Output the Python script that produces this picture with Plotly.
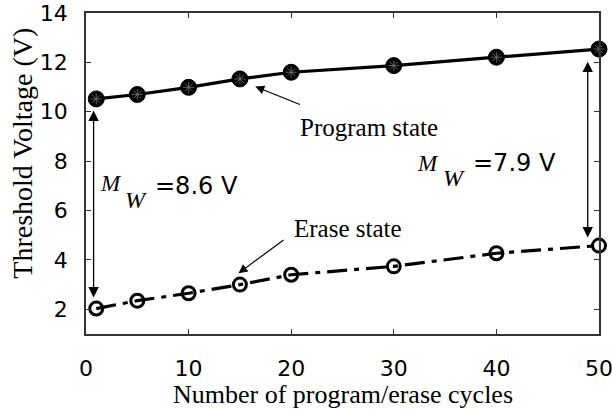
import plotly.graph_objects as go

cycles = [1, 5, 10, 15, 20, 30, 40, 50]
program_vt = [10.52, 10.70, 10.99, 11.33, 11.60, 11.87, 12.21, 12.54]
erase_vt = [2.03, 2.35, 2.65, 3.00, 3.40, 3.74, 4.27, 4.58]
x_ticks = [0, 10, 20, 30, 40, 50]
y_ticks = [2, 4, 6, 8, 10, 12, 14]

SERIF = "Liberation Serif, Times New Roman, serif"
SANS = "DejaVu Sans, Arial, sans-serif"

fig = go.Figure()
fig.add_trace(go.Scatter(
    x=cycles, y=program_vt, mode="lines+markers",
    line=dict(color="black", width=3.2),
    marker=dict(symbol="circle", size=16, color="black",
                line=dict(color="black", width=1)),
    showlegend=False, cliponaxis=False))
fig.add_trace(go.Scatter(
    x=cycles, y=program_vt, mode="markers",
    marker=dict(symbol="asterisk-open", size=9, color="#777777",
                line=dict(color="#777777", width=0.8)),
    showlegend=False, cliponaxis=False))
fig.add_trace(go.Scatter(
    x=cycles, y=erase_vt, mode="lines+markers",
    line=dict(color="black", width=3.2, dash="20px,7px,5px,7px"),
    marker=dict(symbol="circle-open", size=13, color="black",
                line=dict(color="black", width=3)),
    showlegend=False, cliponaxis=False))

ann = []
# double arrows for memory window
for (xa, y0, y1) in [(0.74, 2.42, 10.05), (48.9, 4.85, 12.03)]:
    ann.append(dict(x=xa, y=y1, ax=xa, ay=y0, xref="x", yref="y",
                    axref="x", ayref="y", text="", showarrow=True,
                    arrowhead=2, startarrowhead=2, arrowside="end+start",
                    arrowsize=1.6, startarrowsize=1.6, arrowwidth=1.3,
                    arrowcolor="black"))
# pointer arrows
ann.append(dict(x=16.5, y=11.02, ax=21.0, ay=10.27, xref="x", yref="y",
                axref="x", ayref="y", text="", showarrow=True,
                arrowhead=2, arrowsize=1.5, arrowwidth=1.2, arrowcolor="black"))
ann.append(dict(x=14.86, y=3.46, ax=19.4, ay=4.85, xref="x", yref="y",
                axref="x", ayref="y", text="", showarrow=True,
                arrowhead=2, arrowsize=1.5, arrowwidth=1.2, arrowcolor="black"))
ann.append(dict(x=27.6, y=9.37, xref="x", yref="y", text="Program state",
                showarrow=False, font=dict(family=SERIF, size=25, color="black")))
ann.append(dict(x=25.5, y=5.27, xref="x", yref="y", text="Erase state",
                showarrow=False, font=dict(family=SERIF, size=25, color="black")))

def mw(xm, ym, xw, yw, xt, yt, txt):
    ann.append(dict(x=xm, y=ym, xref="x", yref="y", text="<i>M</i>",
                    showarrow=False, font=dict(family=SERIF, size=23, color="black")))
    ann.append(dict(x=xw, y=yw, xref="x", yref="y", text="<i>W</i>",
                    showarrow=False, font=dict(family=SERIF, size=24, color="black")))
    ann.append(dict(x=xt, y=yt, xref="x", yref="y", text=txt, xanchor="left",
                    showarrow=False, font=dict(family=SANS, size=24, color="black")))

mw(2.46, 7.10, 4.9, 6.41, 6.55, 6.98, "=8.6 V")
mw(33.3, 7.91, 35.9, 7.3, 37.5, 7.91, "=7.9 V")

# axis titles as annotations for exact placement
ann.append(dict(x=-0.124, y=0.563, xref="paper", yref="paper",
                xanchor="center", yanchor="middle",
                text="Threshold Voltage (V)", textangle=-90, showarrow=False,
                font=dict(family=SERIF, size=28, color="black")))
ann.append(dict(x=0.5, y=-0.19, xref="paper", yref="paper",
                xanchor="center", yanchor="middle",
                text="Number of program/erase cycles", showarrow=False,
                font=dict(family=SERIF, size=26, color="black")))

fig.update_layout(
    width=612, height=409,
    margin=dict(l=86, r=13, t=13, b=75, autoexpand=False),
    plot_bgcolor="white", paper_bgcolor="white",
    annotations=ann,
    xaxis=dict(range=[0, 50], tickvals=x_ticks, ticks="inside", ticklen=5,
               tickcolor="#333", showline=True, linecolor="#333", linewidth=1.5,
               mirror="ticks", showgrid=False, zeroline=False,
               automargin=False, ticklabeloverflow="allow",
               tickfont=dict(family=SANS, size=22, color="black"),
               ticklabelstandoff=14),
    yaxis=dict(range=[1, 14], tickvals=y_ticks, ticks="inside", ticklen=5,
               tickcolor="#333", showline=True, linecolor="#333", linewidth=1.5,
               mirror="ticks", showgrid=False, zeroline=False,
               automargin=False, ticklabeloverflow="allow",
               tickfont=dict(family=SANS, size=22, color="black"),
               ticklabelstandoff=12),
)

fig.write_html("out.html")
